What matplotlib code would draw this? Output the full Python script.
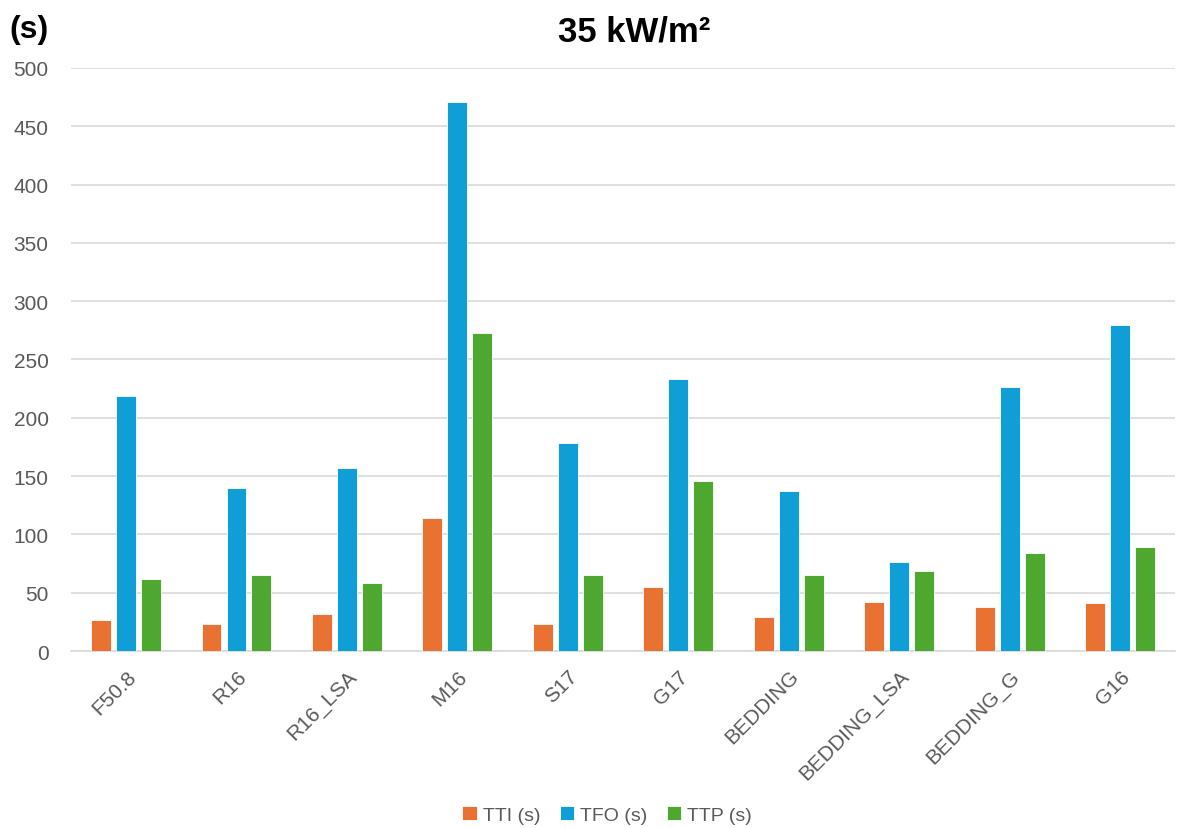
import numpy as np
import matplotlib.pyplot as plt

plt.rcParams['font.family'] = ['Liberation Sans', 'DejaVu Sans']

samples = ['F50.8', 'R16', 'R16_LSA', 'M16', 'S17', 'G17',
           'BEDDING', 'BEDDING_LSA', 'BEDDING_G', 'G16']
tti = [27, 23, 32, 114, 23, 55, 29, 42, 38, 41]
tfo = [219, 140, 157, 471, 178, 233, 137, 76, 226, 280]
ttp = [62, 65, 58, 273, 65, 146, 65, 69, 84, 89]

series = [('TTI (s)', tti, '#E97132'),
          ('TFO (s)', tfo, '#0F9ED5'),
          ('TTP (s)', ttp, '#4EA72E')]

fig = plt.figure(figsize=(11.79, 8.29), dpi=100)
ax = fig.add_axes([0.060, 0.2135, 0.937, 0.7033])

x = np.arange(len(samples))
w = 0.18
step = 0.226
for i, (name, vals, col) in enumerate(series):
    ax.bar(x + (i - 1) * step, vals, w, color=col, label=name,
           edgecolor='white', linewidth=0.6, zorder=3)

ax.set_xlim(-0.5, len(samples) - 0.5)
ax.set_ylim(0, 500)
ax.set_yticks(np.arange(0, 501, 50))
ax.grid(axis='y', color='#D9D9D9', linewidth=1.2, zorder=0)
for s in ['top', 'right', 'left']:
    ax.spines[s].set_visible(False)
ax.spines['bottom'].set_color('#D9D9D9')
ax.spines['bottom'].set_linewidth(1.2)

ax.set_xticks(x)
ax.set_xticklabels(samples, rotation=45, ha='right', rotation_mode='anchor')
ax.tick_params(axis='x', length=0, pad=11, labelsize=15, labelcolor='#595959')
ax.tick_params(axis='y', length=0, pad=16, labelsize=15, labelcolor='#595959')

fig.text(0.538, 0.962, '35 kW/m²', ha='center', va='center',
         fontsize=25, fontweight='bold')
fig.text(0.008, 0.964, '(s)', ha='left', va='center',
         fontsize=23, fontweight='bold')

fig.legend(loc='center', bbox_to_anchor=(0.515, 0.016), ncol=3, frameon=False,
           fontsize=14, labelcolor='#595959', handlelength=0.75, handleheight=0.75,
           handletextpad=0.3, columnspacing=1.0)

fig.savefig('out.png', dpi=100)
